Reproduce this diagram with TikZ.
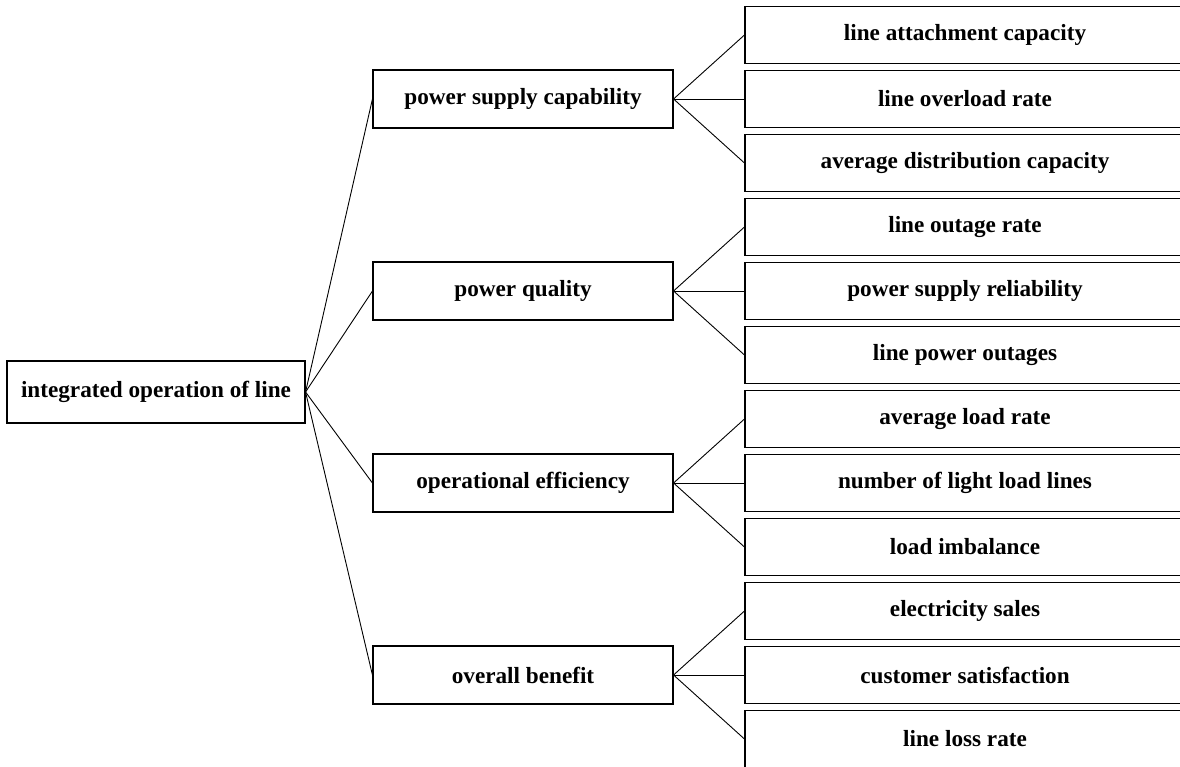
\documentclass[tikz,border=0pt]{standalone}
\usepackage{fontspec}
\setmainfont{Liberation Serif}
\begin{document}
\begin{tikzpicture}[x=1pt,y=-1pt,
  box/.style={draw,line width=1.1pt,rectangle,inner sep=0pt,font=\fontsize{23.2}{28}\selectfont\bfseries},
  rootbox/.style={box,minimum width=298pt,minimum height=62pt},
  midbox/.style={box,minimum width=300pt,minimum height=58pt},
  leafbox/.style={box,minimum width=440pt,minimum height=57pt},
  conn/.style={line width=0.9pt}]
\useasboundingbox (0,0) rectangle (1180,767);
\clip (0,0) rectangle (1180,767);
\node[rootbox] (r) at (156,392) {integrated operation of line};
\node[midbox] (m1) at (523,99) {power supply capability};
\node[midbox] (m2) at (523,291) {power quality};
\node[midbox] (m3) at (523,483) {operational efficiency};
\node[midbox] (m4) at (523,675) {overall benefit};
\node[leafbox] (l1) at (965,35) {line attachment capacity};
\node[leafbox] (l2) at (965,99) {line overload rate};
\node[leafbox] (l3) at (965,163) {average distribution capacity};
\node[leafbox] (l4) at (965,227) {line outage rate};
\node[leafbox] (l5) at (965,291) {power supply reliability};
\node[leafbox] (l6) at (965,355) {line power outages};
\node[leafbox] (l7) at (965,419) {average load rate};
\node[leafbox] (l8) at (965,483) {number of light load lines};
\node[leafbox] (l9) at (965,547) {load imbalance};
\node[leafbox] (l10) at (965,611) {electricity sales};
\node[leafbox] (l11) at (965,675) {customer satisfaction};
\node[leafbox] (l12) at (965,739) {line loss rate};
\foreach \m in {m1,m2,m3,m4} \draw[conn] (r.east) -- (\m.west);
\foreach \l in {l1,l2,l3} \draw[conn] (m1.east) -- (\l.west);
\foreach \l in {l4,l5,l6} \draw[conn] (m2.east) -- (\l.west);
\foreach \l in {l7,l8,l9} \draw[conn] (m3.east) -- (\l.west);
\foreach \l in {l10,l11,l12} \draw[conn] (m4.east) -- (\l.west);
\end{tikzpicture}
\end{document}
